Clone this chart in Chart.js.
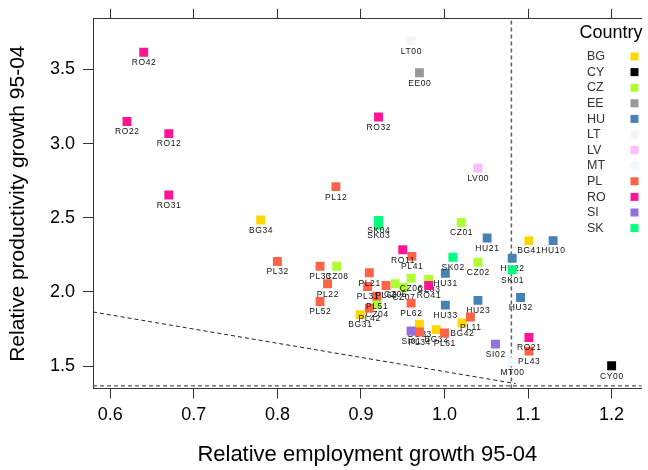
<!DOCTYPE html>
<html>
<head>
<meta charset="utf-8">
<script src="https://cdn.jsdelivr.net/npm/chart.js@4/dist/chart.umd.min.js"></script>
<style>
html,body{margin:0;padding:0;background:#fff;}
#wrap{width:648px;height:470px;position:relative;}
</style>
</head>
<body>
<div id="wrap"><canvas id="c"></canvas></div>
<script>
// ---- data ----
const countries = ['BG','CY','CZ','EE','HU','LT','LV','MT','PL','RO','SI','SK'];
const countryColors = ['#FFD700','#000000','#ADFF2F','#999999','#4682B4','#F5F5F5','#FFBBFF','#F0F8FF','#FF6347','#FF1493','#9370DB','#00FF7F'];
const regions = ['BG31','BG32','BG33','BG34','BG41','BG42','CY00','CZ01','CZ02','CZ03','CZ04','CZ05','CZ06','CZ07','CZ08','EE00','HU10','HU21','HU22','HU23','HU31','HU32','HU33','LT00','LV00','MT00','PL11','PL12','PL21','PL22','PL31','PL32','PL33','PL34','PL41','PL42','PL43','PL51','PL52','PL61','PL62','PL63','RO11','RO12','RO21','RO22','RO31','RO32','RO41','RO42','SI01','SI02','SK01','SK02','SK03','SK04'];
const empGrowth = [0.899,0.990,0.970,0.780,1.101,1.021, 1.200, 1.020,1.040,0.981,0.919,0.941,0.960,0.951,0.871, 0.970, 1.130,1.051,1.081,1.040,1.001,1.091,1.001, 0.960,1.040,1.081, 1.031,0.870,0.910,0.860,0.908,0.800,0.851,0.970,0.961,0.910,1.101,0.919,0.851,1.000,0.960,0.930, 0.950,0.670,1.101,0.620,0.670,0.921,0.981,0.640, 0.960,1.061, 1.081,1.010,0.921,0.921];
const prodGrowth = [1.847,1.746,1.782,2.485,2.346,1.791, 1.502, 2.468,2.200,2.084,1.921,2.055,2.093,2.030,2.173, 3.478, 2.346,2.364,2.227,1.943,2.126,1.963,1.911, 3.693,2.836,1.529, 1.831,2.710,2.129,2.055,2.037,2.205,2.173,1.730,2.240,1.891,1.601,1.972,1.936,1.723,1.925,2.044, 2.285,3.068,1.693,3.149,2.654,3.180,2.044,3.616, 1.737,1.648, 2.149,2.234,2.450,2.483];
const xTicks = [0.6,0.7,0.8,0.9,1.0,1.1,1.2];
const yTicks = [1.5,2.0,2.5,3.0,3.5];
const xRange = [0.5793, 1.236];
const yRange = [1.349, 3.842];
const empThreshold = 1.08;
const prodThreshold = 1.367;
const slopeLineX = [0.5793, 1.085];
const slopeLineY = [1.865, 1.382];
const xTitle = 'Relative employment growth 95-04';
const yTitle = 'Relative productivity growth 95-04';
const legendTitle = 'Country';

// ---- build datasets ----
const FONT = "'Liberation Sans', Arial, sans-serif";
const datasets = [];
countries.forEach((c, ci) => {
  const pts = [], labs = [];
  regions.forEach((r, i) => {
    if (r.slice(0,2) === c) { pts.push({x: empGrowth[i], y: prodGrowth[i]}); labs.push(r); }
  });
  datasets.push({
    type: 'scatter', label: c, data: pts, regionLabels: labs,
    pointStyle: 'rect', pointRadius: 6.3, pointHoverRadius: 6.3,
    backgroundColor: countryColors[ci], borderWidth: 0,
    order: 100 - ci
  });
});
datasets.push({type:'line', label:'v', data:[{x:empThreshold,y:yRange[0]},{x:empThreshold,y:yRange[1]}],
  borderColor:'#666', borderWidth:1.6, borderDash:[4,3], pointRadius:0, order:300});
datasets.push({type:'line', label:'h', data:[{x:xRange[0],y:prodThreshold},{x:xRange[1],y:prodThreshold}],
  borderColor:'#555', borderWidth:1.2, borderDash:[4,3], pointRadius:0, order:300});
datasets.push({type:'line', label:'s', data:slopeLineX.map((x,i)=>({x:x,y:slopeLineY[i]})),
  borderColor:'#222', borderWidth:1, borderDash:[4,3], pointRadius:0, order:300});

const labelPlugin = {
  id: 'ptlabels',
  afterDatasetDraw(chart, args) {
    const ds = chart.data.datasets[args.index];
    if (!ds.regionLabels) return;
    const ctx = chart.ctx;
    ctx.save();
    ctx.font = "8.5px " + FONT;
    try { ctx.letterSpacing = '0.6px'; } catch(e) {}
    ctx.fillStyle = '#111';
    ctx.textAlign = 'center';
    ctx.textBaseline = 'middle';
    args.meta.data.forEach((el, i) => {
      ctx.fillText(ds.regionLabels[i], el.x + 0.3, el.y + 10.5);
    });
    ctx.restore();
  }
};

const legendPlugin = {
  id: 'countryLegend',
  afterDraw(chart) {
    const ctx = chart.ctx;
    ctx.save();
    ctx.fillStyle = '#000';
    ctx.font = "18px " + FONT;
    ctx.textAlign = 'center';
    ctx.textBaseline = 'middle';
    ctx.fillText(legendTitle, 611, 33);
    ctx.font = "12.5px " + FONT;
    ctx.textAlign = 'left';
    countries.forEach((c, i) => {
      const y = 56.7 + i * 15.6;
      ctx.fillStyle = '#333';
      ctx.fillText(c, 587, y);
      ctx.fillStyle = countryColors[i];
      ctx.fillRect(630.5, y - 4.2, 8, 8);
    });
    ctx.restore();
  }
};

const tickFmt = v => Number(v).toFixed(1);
const axisColor = '#333';

new Chart(document.getElementById('c'), {
  data: { datasets },
  options: {
    responsive: true, maintainAspectRatio: false, animation: false,
    layout: { padding: 0 },
    plugins: { legend: { display: false }, tooltip: { enabled: false } },
    scales: {
      x: {
        type: 'linear', position: 'bottom', min: xRange[0], max: xRange[1],
        afterBuildTicks: s => { s.ticks = xTicks.map(v => ({value: v})); },
        afterFit: s => { s.height = 81.5; },
        ticks: { callback: tickFmt, font: {family: FONT, size: 18}, color: '#000', padding: 6, autoSkip: false, maxRotation: 0 },
        grid: { drawOnChartArea: false, drawTicks: true, tickLength: 10, color: axisColor, lineWidth: 1 },
        border: { display: true, color: axisColor, width: 1 },
        title: { display: true, text: xTitle, font: {family: FONT, size: 22}, color: '#000', padding: {top: 0, bottom: 2} }
      },
      x2: {
        type: 'linear', position: 'top', min: xRange[0], max: xRange[1],
        afterBuildTicks: s => { s.ticks = xTicks.map(v => ({value: v})); },
        afterFit: s => { s.height = 17; },
        ticks: { display: false },
        grid: { drawOnChartArea: false, drawTicks: true, tickLength: 10, color: axisColor, lineWidth: 1 },
        border: { display: true, color: axisColor, width: 1 }
      },
      y: {
        type: 'linear', position: 'left', min: yRange[0], max: yRange[1],
        afterBuildTicks: s => { s.ticks = yTicks.map(v => ({value: v})); },
        afterFit: s => { s.width = 93; },
        ticks: { callback: tickFmt, font: {family: FONT, size: 18}, color: '#000', padding: 8, autoSkip: false },
        grid: { drawOnChartArea: false, drawTicks: true, tickLength: 10, color: axisColor, lineWidth: 1 },
        border: { display: true, color: axisColor, width: 1 },
        title: { display: true, text: yTitle, font: {family: FONT, size: 21}, color: '#000', padding: {top: 6, bottom: 0} }
      }
    }
  },
  plugins: [labelPlugin, legendPlugin]
});
</script>
</body>
</html>
